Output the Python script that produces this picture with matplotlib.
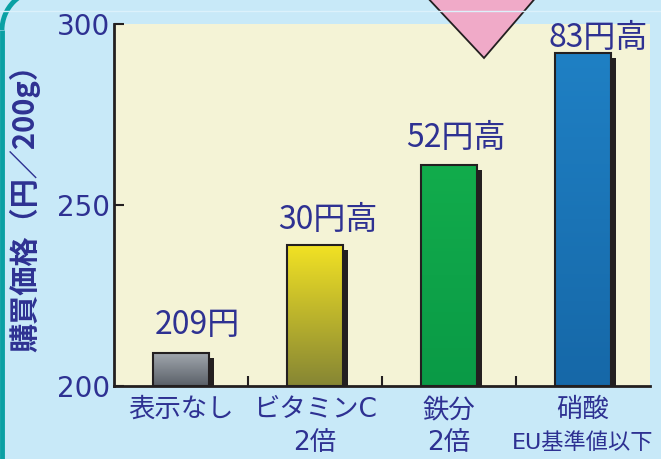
import numpy as np
import matplotlib
matplotlib.use("Agg")
import matplotlib.pyplot as plt
from matplotlib.patches import Polygon, Rectangle, Arc
from matplotlib.transforms import offset_copy, blended_transform_factory

plt.rcParams['font.family'] = ['DejaVu Sans', 'Noto Sans CJK JP']
cjk = ['Noto Sans CJK JP', 'DejaVu Sans']

# data
categories = ["表示なし", "ビタミンC", "鉄分", "硝酸"]
sublabels = ["", "2倍", "2倍", "EU基準値以下"]
prices = [209, 239, 261, 292]
bar_labels = ["209円", "30円高", "52円高", "83円高"]
yticks = [200, 250, 300]

# label nudges (points), placed by hand in the original
label_dx = [12, 9, 5, 11]
label_dy = [14, 11.5, 13, 4]

ink = '#2e3192'
top_cols = ['#a0a6ad', '#f2e224', '#12ac4c', '#1f80c4']
bot_cols = ['#5a6068', '#868634', '#0a9a46', '#1668a8']

W, H = 661, 459
fig = plt.figure(figsize=(W / 100, H / 100), dpi=100)
fig.patch.set_facecolor('#c8e9f8')

ax = fig.add_axes([114 / W, 1 - 386 / H, (650 - 114) / W, (386 - 24) / H])
ax.set_facecolor('#f4f3d6')
ax.set_xlim(-0.5, len(categories) - 0.5)
ax.set_ylim(200, 300)

x = np.arange(len(categories))
bw = 0.42

# shadows
shadow_tr = offset_copy(ax.transData, fig=fig, x=5, y=-5, units='dots')
for xi, v in zip(x, prices):
    ax.add_patch(Rectangle((xi - bw / 2, 200), bw, v - 200, transform=shadow_tr,
                           facecolor='#231f20', edgecolor='none', zorder=2))

# gradient bars
bars = ax.bar(x, np.array(prices) - 200, bottom=200, width=bw,
              facecolor='none', edgecolor='#231f20', linewidth=1.5, zorder=4)
for b, c1, c2 in zip(bars, top_cols, bot_cols):
    a = np.array(matplotlib.colors.to_rgb(c1))
    c = np.array(matplotlib.colors.to_rgb(c2))
    t = np.linspace(0, 1, 64)[:, None]
    grad = (a * (1 - t) + c * t)[:, None, :]
    x0, y0 = b.get_x(), b.get_y()
    im = ax.imshow(grad, extent=(x0, x0 + b.get_width(), y0, y0 + b.get_height()),
                   aspect='auto', origin='upper', zorder=3, interpolation='bilinear')
    im.set_clip_path(b)

for xi, v, lab, dx, dy in zip(x, prices, bar_labels, label_dx, label_dy):
    ax.annotate(lab, (xi, v), xytext=(dx, dy), textcoords='offset points',
                ha='center', va='baseline', fontsize=23, color=ink, zorder=6,
                family=cjk, annotation_clip=False)

# axes styling
for s in ['top', 'right']:
    ax.spines[s].set_visible(False)
for s in ['left', 'bottom']:
    ax.spines[s].set_linewidth(2)
    ax.spines[s].set_color('#231f20')
    ax.spines[s].set_zorder(5)

ax.set_yticks(yticks)
ax.set_yticklabels([str(v) for v in yticks])
ax.tick_params(axis='y', direction='in', length=7, width=1.5, color='#231f20',
               labelsize=20, labelcolor=ink, pad=3)
ax.set_xticks(x[:-1] + 0.5)
ax.set_xticklabels([])
ax.tick_params(axis='x', direction='in', length=7, width=1.5, color='#231f20')
ax.set_xticks(x, minor=True)
ax.set_xticklabels(categories, minor=True)
ax.tick_params(axis='x', which='minor', length=0, labelsize=19, labelcolor=ink, pad=8)

tr = blended_transform_factory(ax.transData, ax.transAxes)
for xi, lab in zip(x, sublabels):
    fs = 16 if len(lab) > 3 else 19
    ax.text(xi, -0.157, lab, transform=tr, ha='center', va='center',
            fontsize=fs, color=ink)

fig.text(25 / W, 1 - 201 / H, "購買価格（円／200g）", rotation=90, ha='center',
         va='center', fontsize=21, fontweight='bold', color=ink, family=cjk)

# decorations
ov = fig.add_axes([0, 0, 1, 1], facecolor='none')
ov.set_xlim(0, W)
ov.set_ylim(H, 0)
ov.axis('off')
ov.plot([0, W], [10.5, 10.5], color='#dcf1fb', lw=1)
ov.add_patch(Polygon([(425, -5), (538, -5), (484, 58)], closed=True,
                     facecolor='#f0aac8', edgecolor='#231f20', lw=1.3))
ov.plot([2, 2], [30, H], color='#0aa0a4', lw=3.5, solid_capstyle='butt')
ov.add_patch(Arc((42, 30), 80, 80, theta1=180, theta2=270, color='#0aa0a4', lw=3.5))

fig.savefig('out.png', dpi=100, facecolor=fig.get_facecolor())
